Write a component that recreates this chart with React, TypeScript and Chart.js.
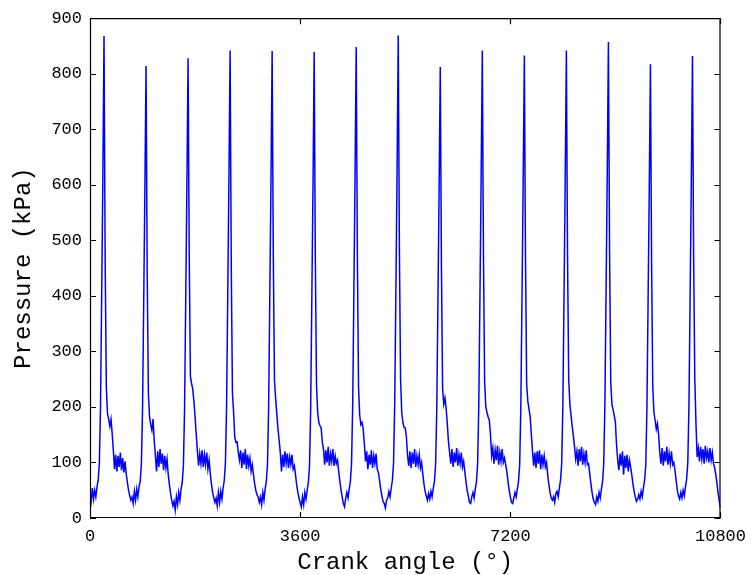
import React, { useEffect, useRef } from "react";
import { Chart, registerables } from "chart.js";

Chart.register(...registerables);

// Crank angle sampling: each engine cycle spans 720°, sampled every 20°
const CYCLE_DEG = 720;
const STEP_DEG = 20;
const X_TICKS = [0, 3600, 7200, 10800];
const Y_TICKS = [0, 100, 200, 300, 400, 500, 600, 700, 800, 900];

// Pressure (kPa), one array per cycle (36 samples each)
const CYCLE_01 = [45, 30, 54, 34, 50, 38, 56, 68, 98, 200, 400, 610, 868, 460, 235, 188, 178, 165, 178, 152, 122, 88, 114, 84, 112, 92, 118, 86, 108, 82, 102, 80, 64, 50, 40, 32];
const CYCLE_02 = [38, 26, 48, 32, 52, 38, 56, 66, 96, 195, 390, 590, 814, 440, 225, 182, 168, 158, 178, 140, 112, 84, 120, 92, 124, 98, 116, 86, 112, 90, 106, 78, 60, 44, 32, 22];
const CYCLE_03 = [30, 14, 38, 24, 46, 32, 52, 64, 94, 198, 395, 600, 828, 470, 255, 242, 232, 210, 182, 150, 120, 94, 116, 98, 122, 92, 114, 96, 118, 88, 104, 80, 62, 46, 36, 28];
const CYCLE_04 = [36, 22, 46, 28, 48, 34, 54, 68, 100, 205, 405, 615, 842, 450, 225, 190, 145, 136, 137, 118, 104, 122, 90, 118, 96, 124, 88, 114, 94, 108, 84, 96, 78, 62, 50, 42];
const CYCLE_05 = [38, 28, 38, 24, 46, 32, 52, 66, 96, 200, 400, 605, 841, 470, 248, 215, 188, 160, 140, 118, 84, 114, 92, 120, 98, 116, 90, 110, 96, 114, 88, 94, 78, 60, 46, 36];
const CYCLE_06 = [28, 20, 38, 24, 46, 34, 50, 64, 94, 196, 398, 600, 839, 465, 240, 190, 172, 166, 162, 136, 124, 96, 122, 100, 128, 94, 116, 102, 124, 94, 112, 98, 104, 84, 66, 50];
const CYCLE_07 = [38, 26, 20, 36, 46, 36, 52, 66, 98, 205, 405, 615, 848, 470, 235, 185, 168, 172, 160, 132, 102, 120, 88, 114, 96, 122, 90, 112, 98, 116, 88, 82, 68, 52, 40, 30];
const CYCLE_08 = [26, 18, 32, 36, 48, 38, 54, 68, 100, 210, 410, 625, 869, 480, 250, 190, 172, 163, 162, 145, 112, 94, 120, 90, 118, 98, 124, 92, 112, 96, 114, 90, 100, 80, 62, 48];
const CYCLE_09 = [40, 32, 44, 34, 48, 38, 54, 66, 96, 196, 392, 590, 812, 450, 232, 205, 216, 198, 170, 138, 118, 98, 124, 92, 118, 100, 126, 94, 114, 98, 118, 92, 102, 84, 66, 50];
const CYCLE_10 = [40, 28, 26, 38, 46, 36, 52, 66, 98, 204, 404, 612, 842, 470, 245, 200, 190, 182, 176, 150, 112, 126, 98, 122, 104, 130, 96, 118, 102, 124, 100, 108, 96, 84, 66, 50];
const CYCLE_11 = [38, 28, 26, 36, 46, 38, 52, 66, 96, 200, 400, 605, 833, 465, 240, 210, 196, 182, 150, 120, 94, 118, 90, 120, 98, 122, 88, 114, 96, 112, 92, 100, 78, 60, 46, 36];
const CYCLE_12 = [32, 38, 28, 44, 48, 38, 54, 68, 98, 204, 402, 610, 842, 470, 250, 205, 185, 165, 148, 128, 106, 120, 94, 124, 102, 128, 96, 116, 100, 122, 96, 98, 80, 62, 46, 34];
const CYCLE_13 = [28, 24, 38, 30, 46, 36, 52, 66, 98, 206, 408, 618, 857, 480, 245, 205, 195, 185, 172, 130, 104, 86, 116, 94, 120, 78, 112, 90, 114, 84, 104, 92, 78, 62, 48, 38];
const CYCLE_14 = [30, 34, 42, 34, 48, 38, 54, 68, 96, 198, 395, 595, 817, 455, 235, 190, 176, 160, 170, 150, 118, 98, 126, 94, 120, 102, 128, 96, 116, 98, 120, 96, 100, 86, 68, 50];
const CYCLE_15 = [40, 34, 46, 36, 50, 40, 56, 70, 100, 204, 400, 605, 832, 470, 250, 170, 110, 126, 102, 128, 106, 124, 98, 130, 108, 120, 100, 126, 104, 118, 98, 90, 78, 62, 44, 30];
const FINAL_VALUE = 18; // pressure at 10800°

const CYCLES = [
  CYCLE_01, CYCLE_02, CYCLE_03, CYCLE_04, CYCLE_05,
  CYCLE_06, CYCLE_07, CYCLE_08, CYCLE_09, CYCLE_10,
  CYCLE_11, CYCLE_12, CYCLE_13, CYCLE_14, CYCLE_15,
];

const X_MAX = 10800;
const Y_MAX = 900;
const FONT = "'Liberation Mono', 'Courier New', monospace";

function buildPoints() {
  const pts: { x: number; y: number }[] = [];
  CYCLES.forEach((cyc, c) => {
    cyc.forEach((v, i) => pts.push({ x: c * CYCLE_DEG + i * STEP_DEG, y: v }));
  });
  pts.push({ x: CYCLES.length * CYCLE_DEG, y: FINAL_VALUE });
  return pts;
}

const boxPlugin = {
  id: "matlabBox",
  afterDraw(chart: any) {
    const { ctx, chartArea } = chart;
    const { left, right, top, bottom } = chartArea;
    const xs = chart.scales.x;
    const ys = chart.scales.y;
    const tl = 6;
    ctx.save();
    ctx.strokeStyle = "#000";
    ctx.lineWidth = 1.2;
    ctx.beginPath();
    ctx.rect(left + 0.5, top + 0.5, right - left - 1, bottom - top - 1);
    X_TICKS.forEach((t) => {
      const px = Math.round(xs.getPixelForValue(t)) + 0.5;
      ctx.moveTo(px, bottom);
      ctx.lineTo(px, bottom - tl);
      ctx.moveTo(px, top);
      ctx.lineTo(px, top + tl);
    });
    Y_TICKS.forEach((t) => {
      const py = Math.round(ys.getPixelForValue(t)) + 0.5;
      ctx.moveTo(left, py);
      ctx.lineTo(left + tl, py);
      ctx.moveTo(right, py);
      ctx.lineTo(right - tl, py);
    });
    ctx.stroke();
    ctx.restore();
  },
};

export default function App() {
  const ref = useRef<HTMLCanvasElement | null>(null);
  useEffect(() => {
    if (!ref.current) return;
    const chart = new Chart(ref.current, {
      type: "line",
      data: {
        datasets: [
          {
            data: buildPoints(),
            borderColor: "#0000ff",
            borderWidth: 1.5,
            pointRadius: 0,
            tension: 0,
            fill: false,
          },
        ],
      },
      options: {
        animation: false,
        responsive: false,
        layout: { padding: { left: 0, right: 31, top: 18, bottom: 0 } },
        plugins: { legend: { display: false }, tooltip: { enabled: false } },
        scales: {
          x: {
            type: "linear",
            min: 0,
            max: X_MAX,
            grid: { display: false, drawTicks: false },
            border: { display: false },
            afterBuildTicks: (s: any) => {
              s.ticks = X_TICKS.map((v) => ({ value: v }));
            },
            afterFit: (s: any) => {
              s.height = 57;
            },
            ticks: {
              color: "#000",
              padding: 8,
              maxRotation: 0,
              autoSkip: false,
              font: { family: FONT, size: 17 },
              callback: (v: any) => String(v),
            },
            title: {
              display: true,
              text: "Crank angle (°)",
              color: "#000",
              font: { family: FONT, size: 24, lineHeight: 1 },
              padding: { top: 0, bottom: 0 },
            },
          },
          y: {
            type: "linear",
            min: 0,
            max: Y_MAX,
            grid: { display: false, drawTicks: false },
            border: { display: false },
            afterBuildTicks: (s: any) => {
              s.ticks = Y_TICKS.map((v) => ({ value: v }));
            },
            afterFit: (s: any) => {
              s.width = 90;
            },
            ticks: {
              color: "#000",
              padding: 8,
              autoSkip: false,
              font: { family: FONT, size: 17 },
              callback: (v: any) => String(v),
            },
            title: {
              display: true,
              text: "Pressure (kPa)",
              color: "#000",
              font: { family: FONT, size: 24, lineHeight: 1 },
              padding: { top: 12, bottom: 0 },
            },
          },
        },
      },
      plugins: [boxPlugin],
    });
    return () => chart.destroy();
  }, []);
  return (
    <div style={{ position: "fixed", left: 0, top: 0, width: 754, height: 575, background: "#fff" }}>
      <canvas ref={ref} width={754} height={575} />
    </div>
  );
}
